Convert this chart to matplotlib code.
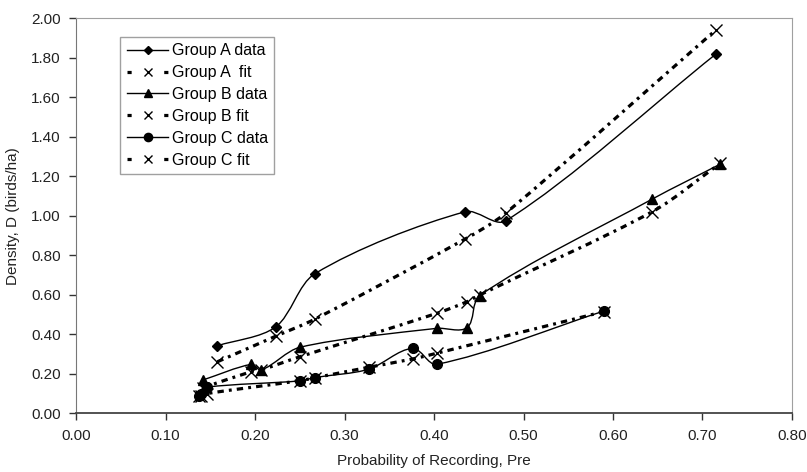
import numpy as np
import matplotlib
matplotlib.use('Agg')
from matplotlib import pyplot as plt
from matplotlib.path import Path
from matplotlib.patches import PathPatch
from matplotlib.lines import Line2D

plt.rcParams['font.family'] = ['Liberation Sans', 'DejaVu Sans']

# values
a_x = [0.158, 0.223, 0.267, 0.435, 0.480, 0.715]
a_data = [0.342, 0.437, 0.707, 1.021, 0.974, 1.819]
a_fit = [0.261, 0.390, 0.477, 0.883, 1.013, 1.941]

b_x = [0.142, 0.196, 0.207, 0.250, 0.403, 0.437, 0.451, 0.644, 0.720]
b_data = [0.169, 0.248, 0.219, 0.334, 0.430, 0.434, 0.596, 1.085, 1.262]
b_fit = [0.130, 0.211, 0.220, 0.286, 0.506, 0.565, 0.599, 1.021, 1.266]

c_x = [0.137, 0.140, 0.146, 0.250, 0.267, 0.327, 0.376, 0.403, 0.590]
c_data = [0.085, 0.100, 0.132, 0.164, 0.181, 0.223, 0.329, 0.248, 0.518]
c_fit = [0.085, 0.090, 0.100, 0.165, 0.180, 0.233, 0.275, 0.304, 0.515]

labels = ['Group A data', 'Group A  fit', 'Group B data', 'Group B fit',
          'Group C data', 'Group C fit']


def smooth_path(ax, xs, ys, k=0.3):
    # excel style smoothed line, control points worked out in screen space
    trans = ax.transData
    pts = trans.transform(np.column_stack([xs, ys]))
    n = len(pts)
    verts = [pts[0]]
    codes = [Path.MOVETO]

    def unit(v):
        d = np.hypot(*v)
        return v / d if d > 0 else v

    for i in range(n - 1):
        p0 = pts[i - 1] if i > 0 else pts[i]
        p1 = pts[i]
        p2 = pts[i + 1]
        p3 = pts[i + 2] if i + 2 < n else pts[i + 1]
        seg = np.hypot(*(p2 - p1))
        c1 = p1 + unit(p2 - p0) * seg * k
        c2 = p2 - unit(p3 - p1) * seg * k
        verts += [c1, c2, p2]
        codes += [Path.CURVE4] * 3
    verts = trans.inverted().transform(np.array(verts))
    return Path(verts, codes)


fig = plt.figure(figsize=(8.07, 4.72), dpi=100)
ax = fig.add_axes([0.0942, 0.1244, 0.8872, 0.8368])
ax.set_xlim(0, 0.8)
ax.set_ylim(0, 2.0)

fit_ls = (0, (2.0, 1.6, 0.9, 1.6))
data_style = dict(facecolor='none', edgecolor='black', lw=1.0)
fit_style = dict(facecolor='none', edgecolor='black', lw=2.3, linestyle=fit_ls)

series = [
    (a_x, a_data, 'D', 5),
    (b_x, b_data, '^', 6.5),
    (c_x, c_data, 'o', 7),
]
fits = [(a_x, a_fit), (b_x, b_fit), (c_x, c_fit)]

handles = []
for (xs, ys, mk, ms), (fx, fy) in zip(series, fits):
    ax.add_patch(PathPatch(smooth_path(ax, fx, fy), **fit_style))
    ax.plot(fx, fy, linestyle='none', marker='x', ms=8, mew=1.0, color='black')
    ax.add_patch(PathPatch(smooth_path(ax, xs, ys), **data_style))
    ax.plot(xs, ys, linestyle='none', marker=mk, ms=ms, color='black')
    handles.append(Line2D([], [], color='black', lw=1.0, marker=mk, ms=ms * 0.85))
    handles.append(Line2D([], [], color='black', lw=2.3, linestyle=(0, (1.3, 10.2)),
                          marker='x', ms=5.5, mew=1.0))

ax.set_xticks(np.arange(0, 0.81, 0.1))
ax.set_yticks(np.arange(0, 2.01, 0.2))
ax.xaxis.set_major_formatter(matplotlib.ticker.FormatStrFormatter('%.2f'))
ax.yaxis.set_major_formatter(matplotlib.ticker.FormatStrFormatter('%.2f'))
ax.tick_params(axis='both', direction='out', length=5, width=1, colors='#333333',
               labelsize=11, labelcolor='#222222', pad=6)

for side in ['top', 'right']:
    ax.spines[side].set_color('#a0a0a0')
    ax.spines[side].set_linewidth(0.8)
ax.spines['left'].set_color('#777777')
ax.spines['bottom'].set_color('#444444')
ax.spines['bottom'].set_linewidth(1.3)

ax.set_xlabel('Probability of Recording, Pre', fontsize=11, color='#222222', labelpad=8)
ax.set_ylabel('Density, D (birds/ha)', fontsize=11, color='#222222', labelpad=8)

leg = ax.legend(handles, labels, loc='upper left', bbox_to_anchor=(0.062, 0.953),
                borderaxespad=0, fontsize=11.5, frameon=True, fancybox=False,
                handlelength=2.6, handletextpad=0.2, labelspacing=0.43,
                borderpad=0.4)
leg.get_frame().set_edgecolor('#888888')
leg.get_frame().set_linewidth(1.0)

plt.savefig('out.png', dpi=100)
